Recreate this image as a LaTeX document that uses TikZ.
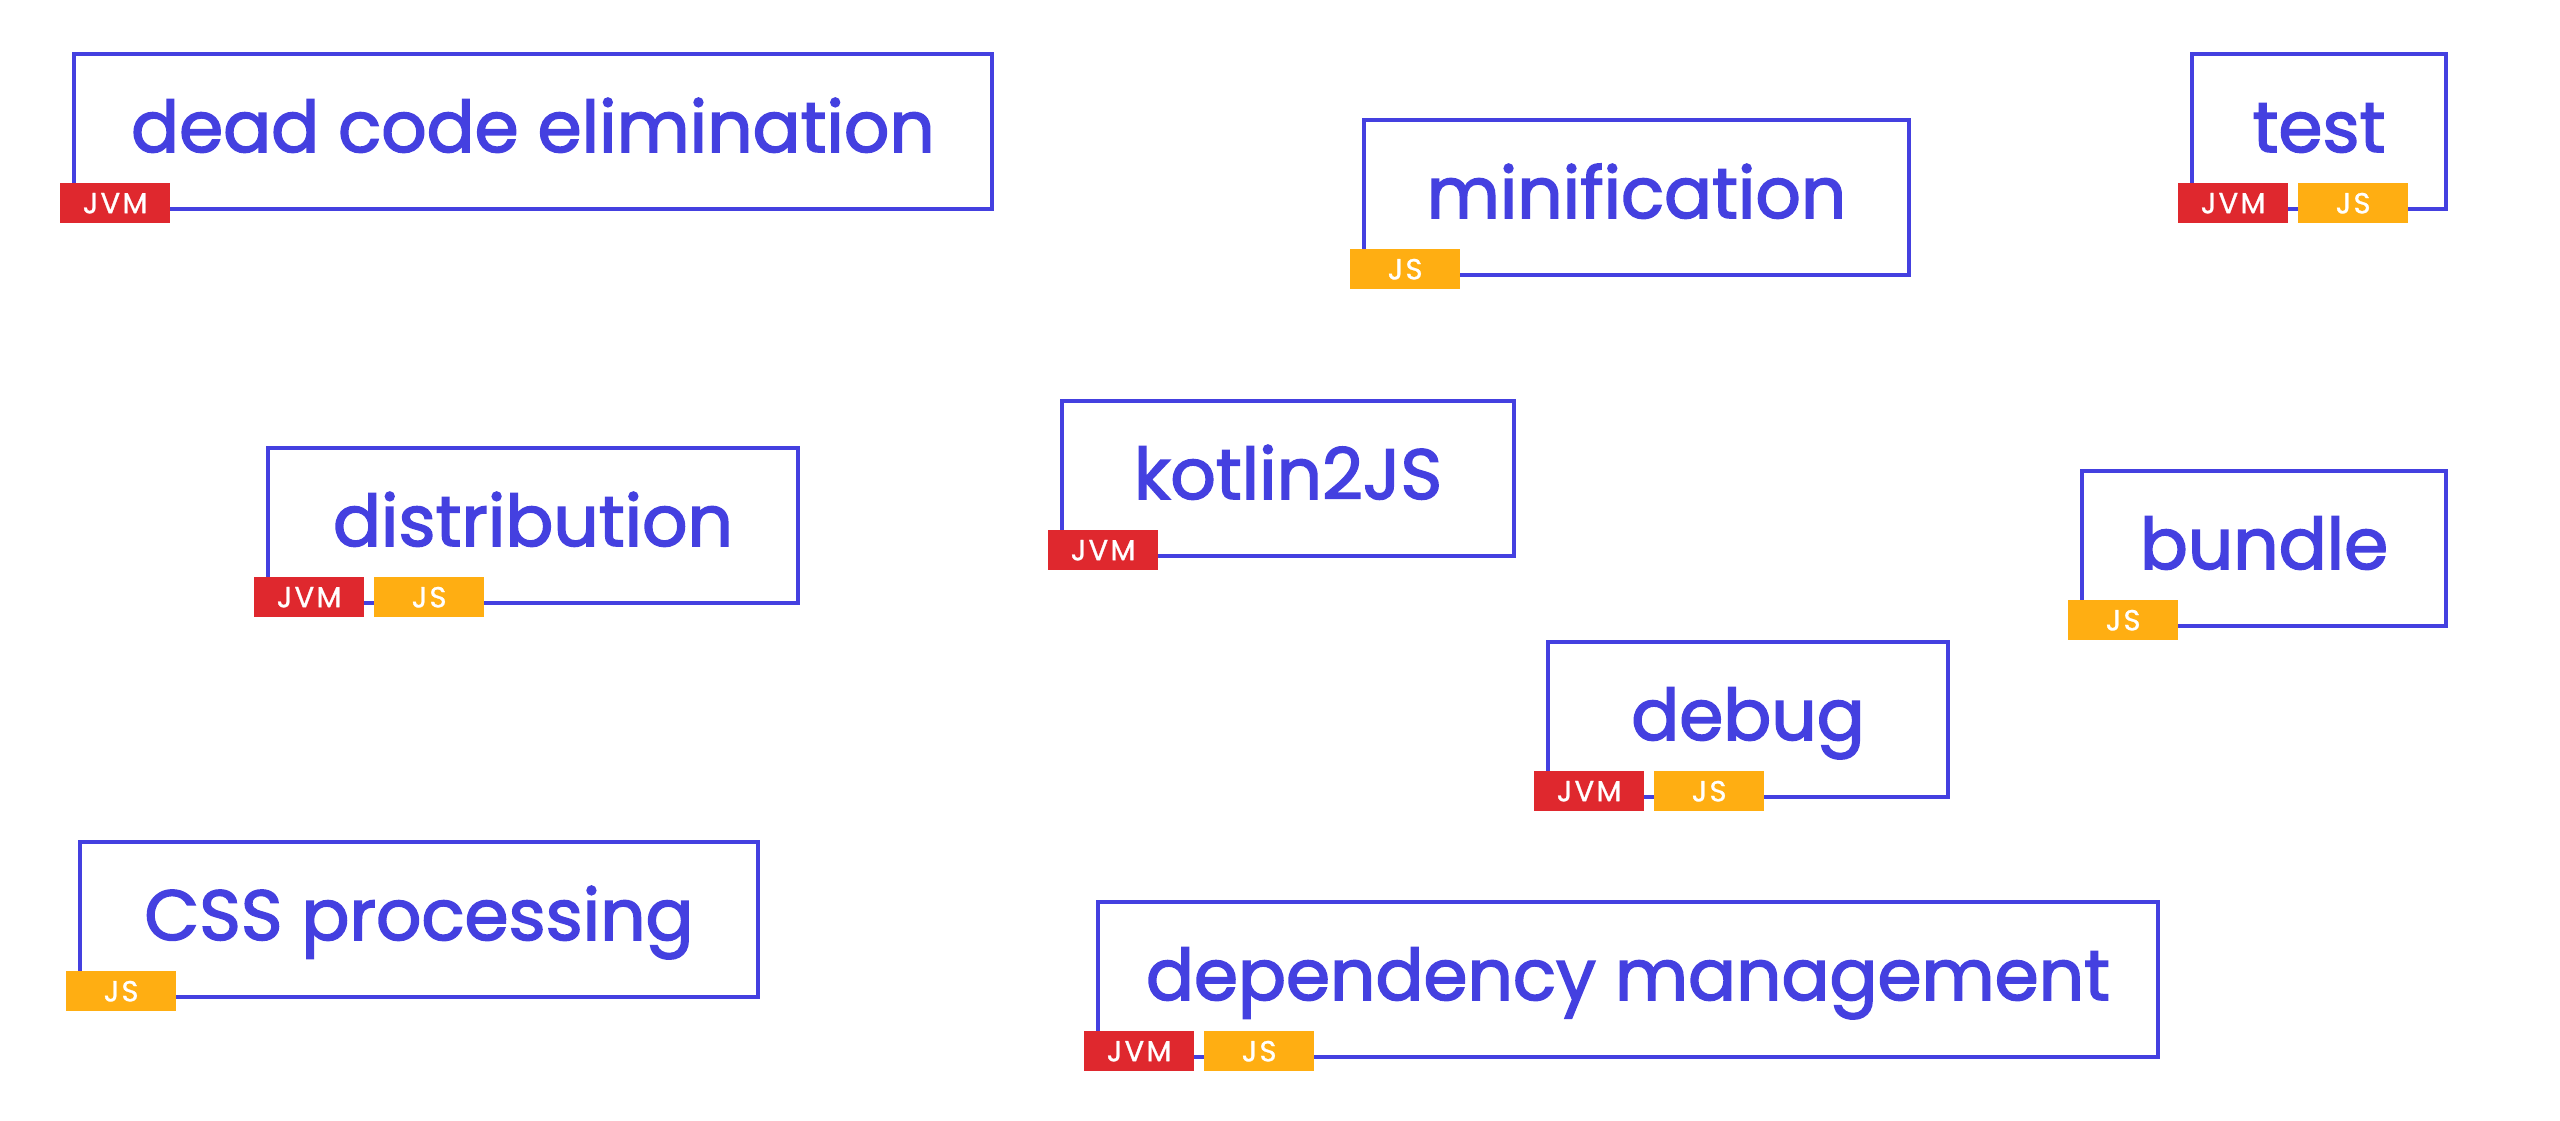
\documentclass[tikz,border=0pt]{standalone}
\usepackage{fontspec}
\setmainfont{Poppins}
\newfontfamily\labelfont{Poppins}[FakeBold=2.2]
\newfontfamily\tagfont{Poppins}[LetterSpace=8,FakeBold=1]
\definecolor{kblue}{HTML}{4440E0}
\definecolor{kred}{HTML}{DF282E}
\definecolor{kyellow}{HTML}{FFAE12}
\begin{document}
\begin{tikzpicture}[x=1pt,y=-1pt,
  task/.style={draw=kblue, line width=4pt, inner sep=0pt, anchor=north west,
    text height=98pt, text depth=57pt, text=kblue,
    font=\labelfont\fontsize{71}{78}\selectfont},
  tagbox/.style={inner sep=0pt, minimum width=110pt, minimum height=40pt,
    anchor=north west, text=white, font=\tagfont\fontsize{29}{32}\selectfont},
  jvmtag/.style={tagbox, fill=kred},
  jstag/.style={tagbox, fill=kyellow}]
\fill[white] (0,0) rectangle (2560,1120);
\useasboundingbox (0,0) rectangle (2560,1120);

\node[task, minimum width=918pt] (dce) at (72,52) {dead code elimination};
\node[task, minimum width=545pt] (mini) at (1362,118) {minification};
\node[task, minimum width=254pt] (test) at (2190,52) {test};
\node[task, minimum width=452pt] (k2js) at (1060,399) {kotlin2JS};
\node[task, minimum width=530pt] (dist) at (266,446) {distribution};
\node[task, minimum width=364pt] (bund) at (2080,469) {bundle};
\node[task, minimum width=400pt] (dbg) at (1546,640) {debug};
\node[task, minimum width=678pt] (css) at (78,840) {CSS processing};
\node[task, minimum width=1060pt] (dep) at (1096,900) {dependency management};

\node[jvmtag] (dcejvm) at ([shift={(-12,-28)}]dce.south west) {JVM};
\node[jstag] (minijs) at ([shift={(-12,-28)}]mini.south west) {JS};
\node[jvmtag] (testjvm) at ([shift={(-12,-28)}]test.south west) {JVM};
\node[jstag] (testjs) at ([shift={(108,-28)}]test.south west) {JS};
\node[jvmtag] (k2jsjvm) at ([shift={(-12,-28)}]k2js.south west) {JVM};
\node[jvmtag] (distjvm) at ([shift={(-12,-28)}]dist.south west) {JVM};
\node[jstag] (distjs) at ([shift={(108,-28)}]dist.south west) {JS};
\node[jstag] (bundjs) at ([shift={(-12,-28)}]bund.south west) {JS};
\node[jvmtag] (dbgjvm) at ([shift={(-12,-28)}]dbg.south west) {JVM};
\node[jstag] (dbgjs) at ([shift={(108,-28)}]dbg.south west) {JS};
\node[jstag] (cssjs) at ([shift={(-12,-28)}]css.south west) {JS};
\node[jvmtag] (depjvm) at ([shift={(-12,-28)}]dep.south west) {JVM};
\node[jstag] (depjs) at ([shift={(108,-28)}]dep.south west) {JS};
\end{tikzpicture}
\end{document}
